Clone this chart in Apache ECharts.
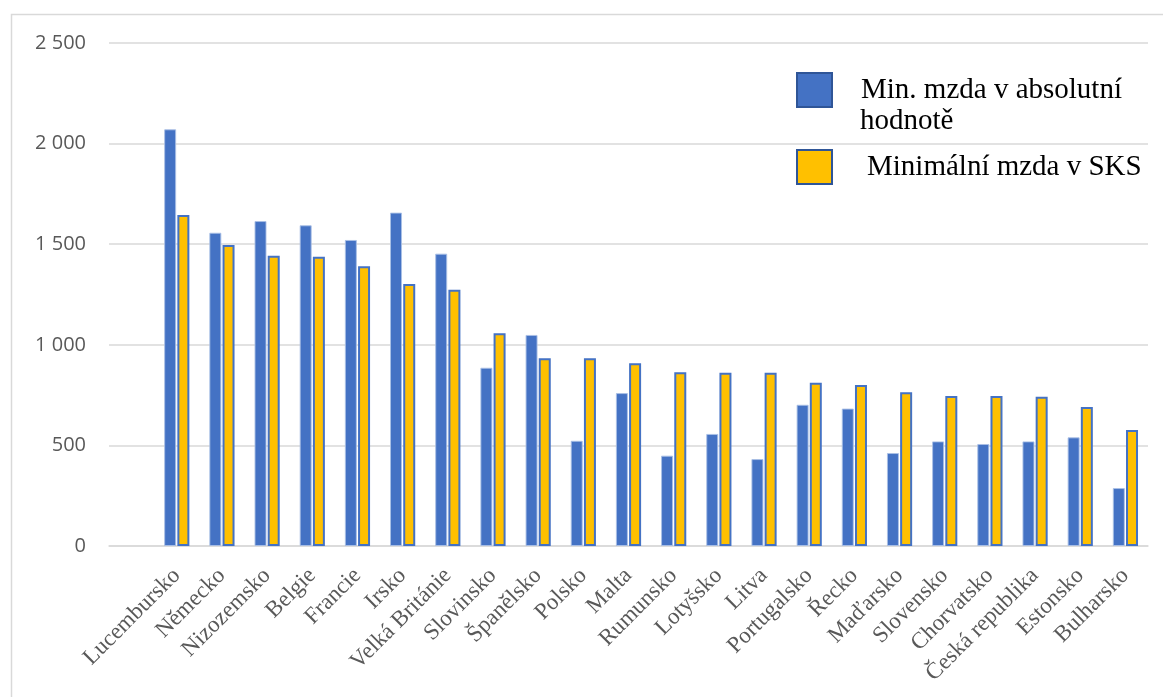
<!DOCTYPE html>
<html>
<head>
<meta charset="utf-8">
<script src="https://cdn.jsdelivr.net/npm/echarts@6/dist/echarts.min.js"></script>
<style>
  html, body { margin: 0; padding: 0; background: #fff; }
  #chart { width: 1163px; height: 697px; }
</style>
</head>
<body>
<div id="chart"></div>
<script>
// Countries (the leading empty slot keeps a blank band before the first country)
const countries = ['', 'Lucembursko', 'Německo', 'Nizozemsko', 'Belgie', 'Francie', 'Irsko',
  'Velká Británie', 'Slovinsko', 'Španělsko', 'Polsko', 'Malta', 'Rumunsko', 'Lotyšsko',
  'Litva', 'Portugalsko', 'Řecko', 'Maďarsko', 'Slovensko', 'Chorvatsko',
  'Česká republika', 'Estonsko', 'Bulharsko'];

// Minimum wage in absolute value
const absoluteWage = ['-', 2071, 1557, 1615, 1594, 1521, 1657, 1453, 886, 1049, 523, 760,
  449, 557, 432, 702, 683, 462, 520, 507, 520, 540, 288];

// Minimum wage in purchasing power standards
const ppsWage = ['-', 1645, 1496, 1443, 1438, 1390, 1302, 1274, 1057, 933, 933, 908,
  863, 861, 861, 811, 800, 764, 745, 745, 742, 691, 577];

// Value axis ticks and their labels
const yTicks = [0, 500, 1000, 1500, 2000, 2500];
const yTickLabels = ['0', '500', '1 000', '1 500', '2 000', '2 500'];

const seriesNames = ['Min. mzda v absolutní hodnotě', 'Minimální mzda v SKS'];
// The first legend entry wraps onto a second line
const legendLines = ['Min. mzda v absolutní', 'hodnotě'];

const chart = echarts.init(document.getElementById('chart'), null, { renderer: 'canvas' });

const legendFont = { fontFamily: 'Liberation Serif', fontSize: 29, color: '#000000' };

chart.setOption({
  animation: false,
  backgroundColor: '#ffffff',
  graphic: [{
    type: 'rect',
    silent: true,
    z: -10,
    shape: { x: 11.5, y: 14.5, width: 1300, height: 900 },
    style: { fill: 'none', stroke: '#d9d9d9', lineWidth: 1.5 }
  }, {
    type: 'text',
    silent: true,
    left: 860,
    top: 107,
    style: { text: legendLines[1], font: '29px "Liberation Serif"', fill: '#000000' }
  }],
  grid: { left: 109, right: 15, top: 43, bottom: 151, containLabel: false },
  legend: [{
    data: [{ name: seriesNames[0], itemStyle: { color: '#4472C4', borderColor: '#2F5597', borderWidth: 2 } }],
    left: 796, top: 72, padding: 0,
    icon: 'rect',
    itemWidth: 35, itemHeight: 34,
    formatter: () => legendLines[0],
    textStyle: Object.assign({}, legendFont, { padding: [0, 0, 0, 24] })
  }, {
    data: [{ name: seriesNames[1], itemStyle: { color: '#FFC000', borderColor: '#2F5597', borderWidth: 2 } }],
    left: 796, top: 149, padding: 0,
    icon: 'rect',
    itemWidth: 35, itemHeight: 34,
    textStyle: Object.assign({}, legendFont, { padding: [0, 0, 0, 30] })
  }],
  xAxis: {
    type: 'category',
    data: countries,
    axisLine: { show: true, lineStyle: { color: '#d9d9d9', width: 1.5 } },
    axisTick: { show: false },
    axisLabel: {
      interval: 0,
      rotate: 45,
      margin: 26,
      fontFamily: 'Liberation Serif',
      fontSize: 23,
      color: '#595959'
    }
  },
  yAxis: {
    type: 'value',
    min: yTicks[0],
    max: yTicks[yTicks.length - 1],
    interval: 500,
    axisLine: { show: false },
    axisTick: { show: false },
    splitLine: { lineStyle: { color: '#d9d9d9', width: 1.5 } },
    axisLabel: {
      margin: 23,
      fontFamily: 'Open Sans',
      fontSize: 20,
      color: '#595959',
      formatter: v => yTickLabels[yTicks.indexOf(v)]
    }
  },
  series: [{
    name: seriesNames[0],
    type: 'bar',
    data: absoluteWage,
    barWidth: 12,
    barGap: '10%',
    itemStyle: { color: '#4472C4', borderColor: 'rgba(170,192,230,0.9)', borderWidth: 1 }
  }, {
    name: seriesNames[1],
    type: 'bar',
    data: ppsWage,
    barWidth: 12,
    itemStyle: { color: '#FFC000', borderColor: '#4472C4', borderWidth: 2 }
  }]
});
</script>
</body>
</html>
